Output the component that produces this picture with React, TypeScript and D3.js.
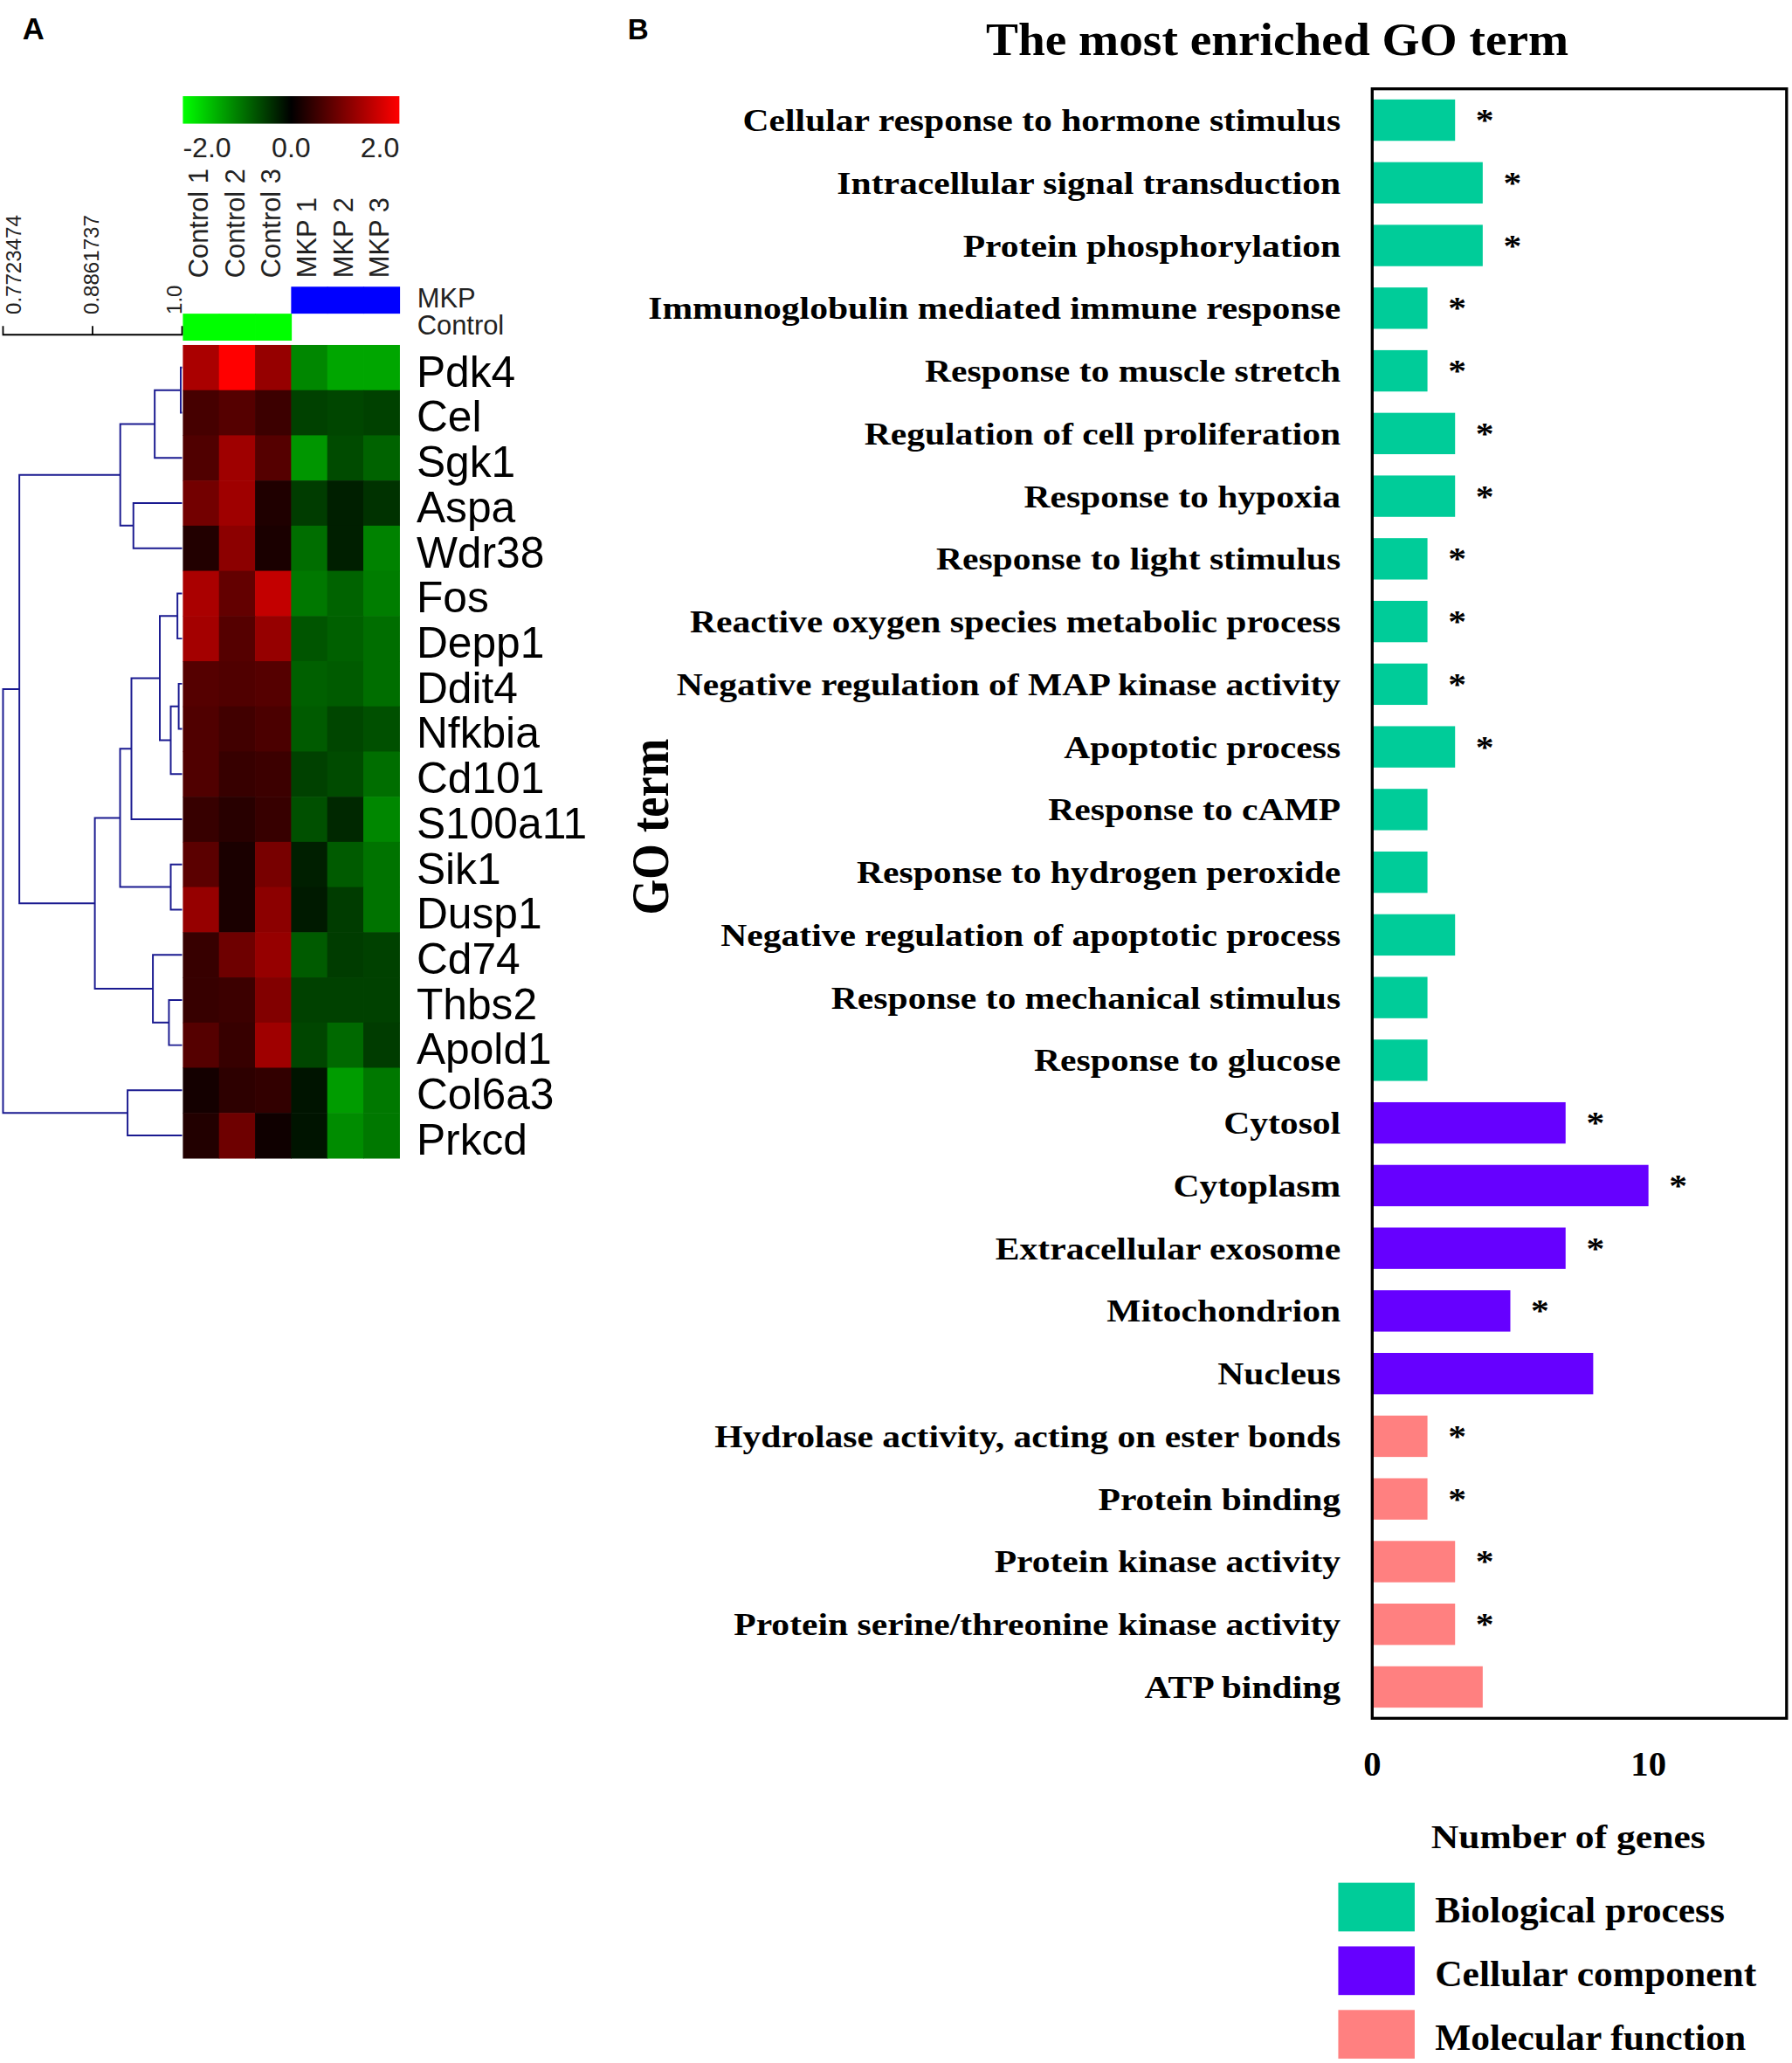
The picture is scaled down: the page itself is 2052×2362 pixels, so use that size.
import React from "react";
import * as d3 from "d3";

// ---------- panel A: heatmap ----------
const genes = ["Pdk4", "Cel", "Sgk1", "Aspa", "Wdr38", "Fos", "Depp1", "Ddit4", "Nfkbia", "Cd101", "S100a11", "Sik1", "Dusp1", "Cd74", "Thbs2", "Apold1", "Col6a3", "Prkcd"];
const samples = ["Control 1", "Control 2", "Control 3", "MKP 1", "MKP 2", "MKP 3"];
const sampleGroups = ["Control", "Control", "Control", "MKP", "MKP", "MKP"];
const groupRows = ["MKP", "Control"];
const groupColors: Record<string, string> = { MKP: "#0000ff", Control: "#00ff00" };

// log ratio per gene, columns follow `samples`
const expression = [
  [1.33, 2.0, 1.18, -1.06, -1.3, -1.3],
  [0.55, 0.67, 0.47, -0.51, -0.55, -0.51],
  [0.63, 1.25, 0.67, -1.18, -0.59, -0.78],
  [0.9, 1.25, 0.24, -0.47, -0.24, -0.39],
  [0.27, 1.1, 0.2, -0.86, -0.24, -1.02],
  [1.33, 0.78, 1.53, -0.94, -0.78, -0.98],
  [1.29, 0.67, 1.18, -0.67, -0.75, -0.86],
  [0.67, 0.63, 0.67, -0.75, -0.71, -0.86],
  [0.63, 0.51, 0.59, -0.71, -0.55, -0.63],
  [0.63, 0.43, 0.47, -0.51, -0.59, -0.86],
  [0.43, 0.31, 0.43, -0.63, -0.31, -1.06],
  [0.71, 0.2, 0.94, -0.24, -0.71, -0.9],
  [1.18, 0.2, 1.1, -0.2, -0.47, -0.9],
  [0.43, 0.86, 1.18, -0.71, -0.47, -0.51],
  [0.43, 0.47, 1.02, -0.51, -0.51, -0.51],
  [0.67, 0.43, 1.25, -0.55, -0.82, -0.47],
  [0.16, 0.35, 0.39, -0.16, -1.22, -0.94],
  [0.27, 0.86, 0.12, -0.16, -1.1, -0.94],
];
const colorTicks = [-2, 0, 2];
const dendroTicks = [0.7723474, 0.8861737, 1.0];
const dendroTickLabels = ["0.7723474", "0.8861737", "1.0"];

type TreeNode = { h?: number; name?: string; children?: TreeNode[] };
const L = (name: string): TreeNode => ({ name });
// gene clustering, h = similarity where the branches join
const geneTree: TreeNode = {
  h: 0.7723474,
  children: [
    {
      h: 0.7931,
      children: [
        {
          h: 0.9214,
          children: [
            { h: 0.9652, children: [{ h: 0.9983, children: [L("Pdk4"), L("Cel")] }, L("Sgk1")] },
            { h: 0.9381, children: [L("Aspa"), L("Wdr38")] },
          ],
        },
        {
          h: 0.8891,
          children: [
            {
              h: 0.9212,
              children: [
                {
                  h: 0.9356,
                  children: [
                    {
                      h: 0.9717,
                      children: [
                        { h: 0.9941, children: [L("Fos"), L("Depp1")] },
                        { h: 0.9856, children: [{ h: 0.9957, children: [L("Ddit4"), L("Nfkbia")] }, L("Cd101")] },
                      ],
                    },
                    L("S100a11"),
                  ],
                },
                { h: 0.9856, children: [L("Sik1"), L("Dusp1")] },
              ],
            },
            { h: 0.9629, children: [L("Cd74"), { h: 0.9833, children: [L("Thbs2"), L("Apold1")] }] },
          ],
        },
      ],
    },
    { h: 0.9307, children: [L("Col6a3"), L("Prkcd")] },
  ],
};

// ---------- panel B: GO bars ----------
const goTerms = [
  "Cellular response to hormone stimulus",
  "Intracellular signal transduction",
  "Protein phosphorylation",
  "Immunoglobulin mediated immune response",
  "Response to muscle stretch",
  "Regulation of cell proliferation",
  "Response to hypoxia",
  "Response to light stimulus",
  "Reactive oxygen species metabolic process",
  "Negative regulation of MAP kinase activity",
  "Apoptotic process",
  "Response to cAMP",
  "Response to hydrogen peroxide",
  "Negative regulation of apoptotic process",
  "Response to mechanical stimulus",
  "Response to glucose",
  "Cytosol",
  "Cytoplasm",
  "Extracellular exosome",
  "Mitochondrion",
  "Nucleus",
  "Hydrolase activity, acting on ester bonds",
  "Protein binding",
  "Protein kinase activity",
  "Protein serine/threonine kinase activity",
  "ATP binding",
];
const geneCounts = [3, 4, 4, 2, 2, 3, 3, 2, 2, 2, 3, 2, 2, 3, 2, 2, 7, 10, 7, 5, 8, 2, 2, 3, 3, 4];
const goCategory = [0, 0, 0, 0, 0, 0, 0, 0, 0, 0, 0, 0, 0, 0, 0, 0, 1, 1, 1, 1, 1, 2, 2, 2, 2, 2];
const significant = [1, 1, 1, 1, 1, 1, 1, 1, 1, 1, 1, 0, 0, 0, 0, 0, 1, 1, 1, 1, 0, 1, 1, 1, 1, 0];
const categoryNames = ["Biological process", "Cellular component", "Molecular function"];
const categoryColors = ["#00cc99", "#6600ff", "#ff8080"];
const countTicks = [0, 10];

const SERIF = "'Liberation Serif', 'Times New Roman', serif";
const SANS = "'Liberation Sans', Arial, sans-serif";

// bold serif text, widened like the original panel
function Wide({ x, y, sx = 1, size, anchor = "start", children }: any) {
  return (
    <g transform={`translate(${x},${y}) scale(${sx},1)`}>
      <text x={0} y={0} fontFamily={SERIF} fontWeight="bold" fontSize={size} textAnchor={anchor} fill="#000">
        {children}
      </text>
    </g>
  );
}

export default function App() {
  // heatmap scales
  const hmX = d3.scaleBand<string>().domain(samples).range([138.9, 303.5]);
  const hmY = d3.scaleBand<string>().domain(genes).range([262.2, 880.2]);
  const color = d3.scaleLinear<string>().domain([-2, 0, 2]).range(["#00ff00", "#000000", "#ff0000"]).clamp(true);
  const cbX = d3.scaleLinear().domain([-2, 2]).range([138.9, 303.5]);
  const groupY = d3.scaleBand<string>().domain(groupRows).range([217.9, 258.9]);
  const dendroX = d3.scaleLinear().domain([0.7723474, 1.0]).range([2.2, 138.3]);

  const root = d3.hierarchy<TreeNode>(geneTree, (d) => d.children);
  const pos = new Map<any, { x: number; y: number }>();
  root.eachAfter((n) => {
    if (!n.children) {
      pos.set(n, { x: dendroX(1), y: hmY(n.data.name!)! + hmY.bandwidth() / 2 });
    } else {
      const ys = n.children.map((c) => pos.get(c)!.y);
      pos.set(n, { x: dendroX(n.data.h!), y: (ys[0] + ys[ys.length - 1]) / 2 });
    }
  });
  const links = root
    .descendants()
    .filter((n) => n.children)
    .map((n) => {
      const p = pos.get(n)!;
      const [a, b] = n.children!.map((c) => pos.get(c)!);
      return `M${a.x},${a.y}H${p.x}V${b.y}H${b.x}`;
    });

  // bar chart scales
  const barY = d3.scaleBand<string>().domain(goTerms).range([67.5, 1306]).paddingInner(0.34).paddingOuter(0.17);
  const barX = d3.scaleLinear().domain([0, 15]).range([1043, 1358]);
  const legendY = d3.scaleBand<string>().domain(categoryNames).range([1431, 1564.7]).paddingInner(0.235);

  return (
    <svg
      width={2052}
      height={2362}
      viewBox="0 0 1362 1568"
      style={{ position: "absolute", left: 0, top: 0, background: "#fff" }}
    >
      <rect x={0} y={0} width={1362} height={1568} fill="#fff" />

      {/* panel letters */}
      <text x={17} y={30} fontFamily={SANS} fontWeight="bold" fontSize={23}>A</text>
      <text x={477} y={30} fontFamily={SANS} fontWeight="bold" fontSize={22}>B</text>

      {/* ---------------- panel A ---------------- */}
      <defs>
        <linearGradient id="cbGrad" x1="0" x2="1" y1="0" y2="0">
          {colorTicks.map((t) => (
            <stop key={t} offset={(t + 2) / 4} stopColor={color(t)} />
          ))}
        </linearGradient>
      </defs>
      <rect x={cbX(-2)} y={73.1} width={cbX(2) - cbX(-2)} height={20.9} fill="url(#cbGrad)" />
      {colorTicks.map((t, i) => (
        <text
          key={t}
          x={cbX(t)}
          y={119.7}
          fontFamily={SANS}
          fontSize={21.3}
          fill="#222"
          textAnchor={i === 0 ? "start" : i === colorTicks.length - 1 ? "end" : "middle"}
        >
          {t.toFixed(1)}
        </text>
      ))}

      {/* sample labels */}
      {samples.map((s) => (
        <text
          key={s}
          transform={`translate(${hmX(s)! + hmX.bandwidth() / 2 + 5.6},211.3) rotate(-90)`}
          fontFamily={SANS}
          fontSize={20.5}
          fill="#222"
        >
          {s}
        </text>
      ))}

      {/* group bar */}
      {samples.map((s, i) => (
        <rect
          key={s}
          x={hmX(s)}
          y={groupY(sampleGroups[i])}
          width={hmX.bandwidth() + 0.5}
          height={groupY.bandwidth()}
          fill={groupColors[sampleGroups[i]]}
        />
      ))}
      {groupRows.map((g) => (
        <text key={g} x={317} y={groupY(g)! + groupY.bandwidth() / 2 + 5.8} fontFamily={SANS} fontSize={20.5} fill="#222">
          {g}
        </text>
      ))}

      {/* dendrogram scale */}
      <path
        d={`M${dendroX(dendroTicks[0])},247.8V254.4H${dendroX(1)}V247.8M${dendroX(dendroTicks[1])},254.4V247.8`}
        fill="none"
        stroke="#000"
        strokeWidth={1.2}
      />
      {dendroTicks.map((t, i) => {
        const x = Math.min(Math.max(dendroX(t) + 4.5, 15.5), dendroX(1));
        return (
          <text key={t} transform={`translate(${x},239) rotate(-90)`} fontFamily={SANS} fontSize={16} fill="#222">
            {dendroTickLabels[i]}
          </text>
        );
      })}

      {/* dendrogram */}
      {links.map((d, i) => (
        <path key={i} d={d} fill="none" stroke="#1a1a90" strokeWidth={1.3} />
      ))}

      {/* cells */}
      {genes.map((g, r) =>
        samples.map((s, c) => (
          <rect
            key={g + s}
            x={hmX(s)}
            y={hmY(g)}
            width={hmX.bandwidth() + 0.4}
            height={hmY.bandwidth() + 0.4}
            fill={color(expression[r][c])}
          />
        ))
      )}
      {genes.map((g) => (
        <text key={g} x={316.5} y={hmY(g)! + hmY.bandwidth() / 2 + 14.5} fontFamily={SANS} fontSize={33} fill="#000">
          {g}
        </text>
      ))}

      {/* ---------------- panel B ---------------- */}
      <Wide x={970.8} y={42} sx={1.05} size={35} anchor="middle">
        The most enriched GO term
      </Wide>

      {goTerms.map((t, i) => (
        <rect
          key={t}
          x={barX(0)}
          y={barY(t)}
          width={barX(geneCounts[i]) - barX(0)}
          height={barY.bandwidth()}
          fill={categoryColors[goCategory[i]]}
        />
      ))}
      {goTerms.map((t) => (
        <Wide key={t} x={1019} y={barY(t)! + barY.bandwidth() / 2 + 8.3} sx={1.175} size={23.5} anchor="end">
          {t}
        </Wide>
      ))}
      {goTerms.map((t, i) =>
        significant[i] ? (
          <Wide key={t} x={barX(geneCounts[i]) + 22.6} y={barY(t)! + barY.bandwidth() / 2 + 8.3} sx={1.175} size={23.5} anchor="middle">
            *
          </Wide>
        ) : null
      )}
      <rect x={barX(0)} y={67.5} width={barX(15) - barX(0)} height={1306 - 67.5} fill="none" stroke="#000" strokeWidth={2.2} />

      {countTicks.map((t) => (
        <text key={t} x={barX(t)} y={1349.6} fontFamily={SERIF} fontWeight="bold" fontSize={27} textAnchor="middle">
          {t}
        </text>
      ))}
      <Wide x={1192} y={1405} sx={1.158} size={25} anchor="middle">
        Number of genes
      </Wide>

      <g transform="translate(507.8,628.4) rotate(-90) scale(1,1.16)">
        <text x={0} y={0} fontFamily={SERIF} fontWeight="bold" fontSize={34.7} textAnchor="middle">
          GO term
        </text>
      </g>

      {/* legend */}
      {categoryNames.map((c, i) => (
        <g key={c}>
          <rect x={1017.2} y={legendY(c)} width={58.1} height={legendY.bandwidth()} fill={categoryColors[i]} />
          <Wide x={1090.7} y={legendY(c)! + 30.4} sx={1.04} size={27.8}>
            {c}
          </Wide>
        </g>
      ))}
    </svg>
  );
}
